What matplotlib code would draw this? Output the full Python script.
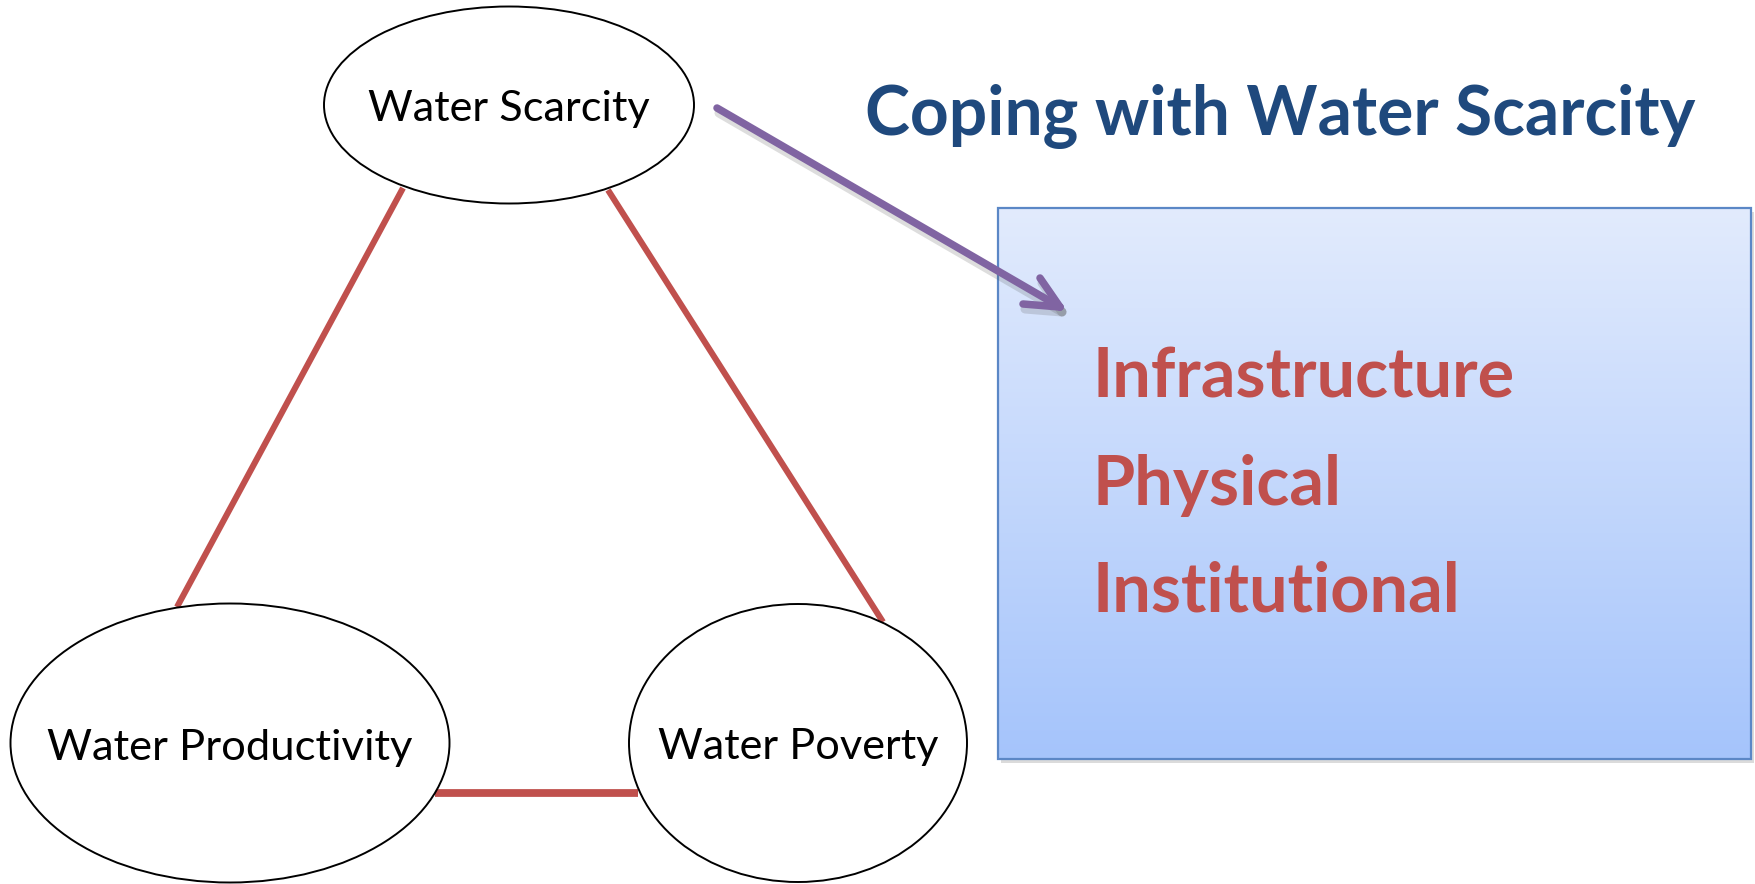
import matplotlib.pyplot as plt
import numpy as np
from matplotlib.patches import Ellipse, Rectangle

# diagram content
nodes = ["Water Scarcity", "Water Productivity", "Water Poverty"]
title = "Coping with Water Scarcity"
options = ["Infrastructure", "Physical", "Institutional"]

# layout in pixels (x right, y down)
node_xy = [(509, 105), (230, 743), (798, 743)]
node_wh = [(370, 197), (439, 279), (338, 278)]
node_base = [121, 760, 759]
node_textw = [281, 364, 280]
links = [((403, 188), (177, 607), 4.4), ((608, 190), (883, 622), 4.4),
         ((435, 793), (638, 793), 5.6)]
box = (998, 208, 1751, 759)
opt_x = 1093
opt_base = [398, 505, 611]

red = "#C0504D"
purple = "#8064A2"
navy = "#1F497D"

fig = plt.figure(figsize=(17.56, 8.84), dpi=100)
ax = fig.add_axes([0, 0, 1, 1])
ax.set_xlim(0, 1756)
ax.set_ylim(884, 0)
ax.axis("off")
renderer = fig.canvas.get_renderer()


def fit(t, width):
    # scale font so the text spans the given pixel width
    w = t.get_window_extent(renderer).width
    t.set_fontsize(t.get_fontsize() * width / w)
    return t.get_fontsize()


# links between nodes
for (p, q, lw) in links:
    ax.plot([p[0], q[0]], [p[1], q[1]], color=red, lw=lw, solid_capstyle="butt", zorder=1)

# nodes
for name, (cx, cy), (w, h), base, tw in zip(nodes, node_xy, node_wh, node_base, node_textw):
    ax.add_patch(Ellipse((cx, cy), w, h, fc="white", ec="black", lw=1.4, zorder=2))
    t = ax.text(cx, base, name, ha="center", va="baseline", fontsize=22,
                family="Lato", color="black", zorder=3)
    fit(t, tw)

# gradient box with shadow
x0, y0, x1, y1 = box
ax.add_patch(Rectangle((x0 + 3, y0 + 4), x1 - x0, y1 - y0, fc="#9a9a9a", ec="none",
                       alpha=0.35, zorder=1))
top = np.array([226, 235, 253]) / 255
bot = np.array([165, 196, 251]) / 255
g = np.linspace(0, 1, 256)[:, None, None]
grad = top * (1 - g) + bot * g
ax.imshow(grad, extent=(x0, x1, y1, y0), aspect="auto", zorder=2, interpolation="bilinear")
ax.add_patch(Rectangle((x0, y0), x1 - x0, y1 - y0, fc="none", ec="#5B87C6", lw=1.6, zorder=3))
ax.set_xlim(0, 1756)
ax.set_ylim(884, 0)

size = None
for name, base in zip(options, opt_base):
    t = ax.text(opt_x, base, name, ha="left", va="baseline", fontsize=40,
                family="Lato", weight="bold", color=red, zorder=4)
    if size is None:
        size = fit(t, 422)
    t.set_fontsize(size)

# title
t = ax.text(865, 135, title, ha="left", va="baseline", fontsize=40,
            family="Lato", weight="bold", color=navy, zorder=4)
fit(t, 830)

# arrow with soft shadow
arrow = [((717, 108), (1060, 307)), ((1060, 307), (1040, 278)), ((1060, 307), (1023, 304))]
for (p, q) in arrow:
    ax.plot([p[0] + 2, q[0] + 2], [p[1] + 5, q[1] + 5], color="#555555", alpha=0.2,
            lw=6.5, solid_capstyle="round", zorder=4)
for (p, q) in arrow:
    ax.plot([p[0], q[0]], [p[1], q[1]], color=purple, lw=5.4,
            solid_capstyle="round", zorder=5)

plt.savefig("out.png", dpi=100)
